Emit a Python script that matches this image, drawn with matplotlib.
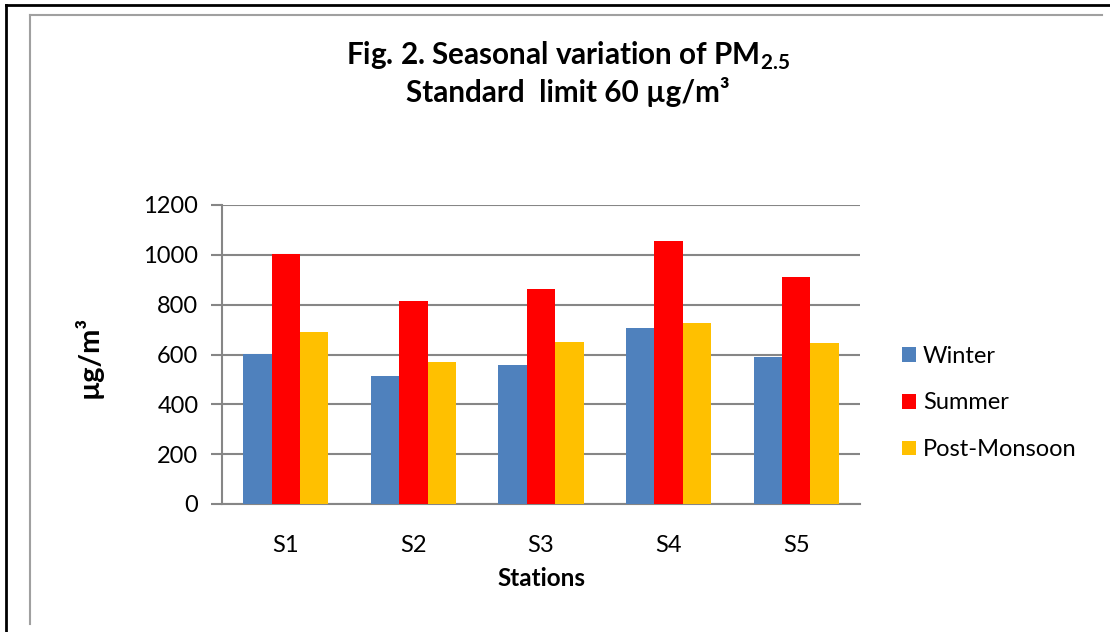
import matplotlib
matplotlib.use("Agg")
import matplotlib.pyplot as plt
from matplotlib.lines import Line2D
from matplotlib.patches import Patch
import numpy as np

# data
stations = ['S1', 'S2', 'S3', 'S4', 'S5']
winter = [602, 515, 558, 706, 589]
summer = [1003, 815, 862, 1055, 911]
post_monsoon = [689, 570, 650, 726, 645]
y_ticks = [0, 200, 400, 600, 800, 1000, 1200]

plt.rcParams['font.family'] = ['Lato', 'DejaVu Sans']
plt.rcParams['mathtext.fontset'] = 'custom'
plt.rcParams['mathtext.rm'] = 'Lato'
plt.rcParams['mathtext.bf'] = 'Lato:bold'

W, H = 1110, 632
fig = plt.figure(figsize=(W / 100, H / 100), dpi=100)
ax = fig.add_axes([222 / W, 1 - 504 / H, (860 - 222) / W, (504 - 205) / H])

colors = ['#4F81BD', '#FF0000', '#FFC000']
labels = ['Winter', 'Summer', 'Post-Monsoon']
x = np.arange(len(stations))
bw = 0.223
for i, (vals, c) in enumerate(zip([winter, summer, post_monsoon], colors)):
    ax.bar(x + (i - 1) * bw, vals, width=bw, color=c, zorder=3)

ax.set_xlim(-0.5, len(stations) - 0.5)
ax.set_ylim(0, 1200)
ax.set_yticks(y_ticks)
ax.set_xticks(x)
ax.set_xticklabels(stations)
ax.yaxis.grid(True, color='#868686', linewidth=1.5, zorder=0)
for s in ['top', 'right']:
    ax.spines[s].set_visible(False)
ax.spines['left'].set_color('#868686')
ax.spines['left'].set_linewidth(1.5)
ax.spines['bottom'].set_color('#868686')
ax.spines['bottom'].set_linewidth(1.5)
ax.tick_params(axis='y', length=8, width=1.5, color='#868686', labelsize=17, pad=9)
ax.tick_params(axis='x', length=0, labelsize=17, pad=22)

ax.set_xlabel('Stations', fontsize=17.5, fontweight='bold')
ax.xaxis.label.set_va('center')
ax.xaxis.set_label_coords(0.5, (504 - 578) / 299)
ax.set_ylabel('µg/m³', fontsize=21, fontweight='bold')
ax.yaxis.label.set_va('center')
ax.yaxis.set_label_coords((88 - 222) / 638, (504 - 357) / 299)

fig.text(568 / W, 1 - 56 / H, 'Fig. 2. Seasonal variation of PM$_{\\mathbf{2.5}}$',
         fontsize=21.3, fontweight='bold', ha='center', va='center')
fig.text(568 / W, 1 - 92 / H, 'Standard  limit 60 µg/m³',
         fontsize=21.3, fontweight='bold', ha='center', va='center')

handles = [Patch(facecolor=c) for c in colors]
fig.legend(handles, labels, loc='center left', bbox_to_anchor=(881 / W, 1 - 403 / H),
           frameon=False, fontsize=17, handlelength=0.58, handleheight=0.58,
           handletextpad=0.3, labelspacing=1.1)

# chart borders
fig.add_artist(Line2D([5.5 / W, 1], [1 - 4.5 / H, 1 - 4.5 / H], color='black', lw=2, transform=fig.transFigure))
fig.add_artist(Line2D([5.5 / W, 5.5 / W], [0, 1 - 4.5 / H], color='black', lw=2, transform=fig.transFigure))
fig.add_artist(Line2D([30 / W, 1102 / W], [1 - 15 / H, 1 - 15 / H], color='#A0A0A0', lw=1.5, transform=fig.transFigure))
fig.add_artist(Line2D([30 / W, 30 / W], [1 - 624 / H, 1 - 15 / H], color='#A0A0A0', lw=1.5, transform=fig.transFigure))

fig.savefig('out.png', dpi=100)
